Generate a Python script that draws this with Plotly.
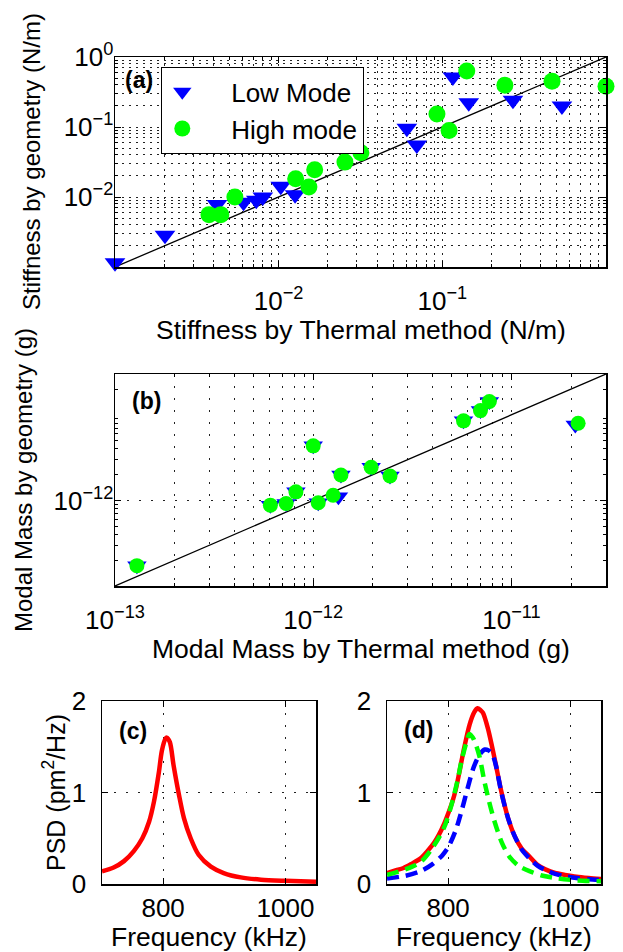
import plotly.graph_objects as go

# ---------------- data ----------------
# (a) stiffness (N/m)
low_k_thermal = [1.0e-3, 2.02e-3, 4.2e-3, 6.1e-3, 7.3e-3, 8.0e-3, 1.03e-2, 1.26e-2,
                 6.07e-2, 6.98e-2, 0.116, 0.145, 0.27, 0.538]
low_k_geom = [1.15e-3, 2.85e-3, 7.8e-3, 8.4e-3, 9.0e-3, 1.0e-2, 1.42e-2, 1.08e-2,
              9.6e-2, 5.55e-2, 0.52, 0.222, 0.242, 0.199]
high_k_thermal = [3.75e-3, 4.43e-3, 5.4e-3, 1.27e-2, 1.53e-2, 1.66e-2, 2.54e-2, 3.18e-2,
                  9.27e-2, 0.11, 0.141, 0.241, 0.468, 1.0]
high_k_geom = [5.6e-3, 5.6e-3, 1.0e-2, 1.82e-2, 1.39e-2, 2.45e-2, 3.15e-2, 4.3e-2,
               0.153, 8.9e-2, 0.632, 0.395, 0.45, 0.383]
k_ref = [1e-3, 1.0]

# (b) modal mass (g)
low_m_thermal = [1.29e-13, 6.08e-13, 7.3e-13, 8.18e-13, 1.0e-12, 1.06e-12, 1.34e-12, 1.38e-12,
                 1.96e-12, 2.44e-12, 5.73e-12, 6.98e-12, 7.74e-12, 2.1e-11]
low_m_geom = [1.73e-13, 8.81e-13, 9.2e-13, 1.26e-12, 4.34e-12, 9.4e-13, 1.1e-12, 1.98e-12,
              2.44e-12, 1.93e-12, 8.5e-12, 1.12e-11, 1.43e-11, 7.6e-12]
high_m_thermal = [1.29e-13, 6.08e-13, 7.3e-13, 8.18e-13, 1.0e-12, 1.06e-12, 1.26e-12, 1.38e-12,
                  1.96e-12, 2.44e-12, 5.73e-12, 6.98e-12, 7.74e-12, 2.17e-11]
high_m_geom = [1.73e-13, 8.81e-13, 9.2e-13, 1.26e-12, 4.34e-12, 9.4e-13, 1.15e-12, 1.98e-12,
               2.44e-12, 1.93e-12, 8.5e-12, 1.12e-11, 1.43e-11, 7.98e-12]
m_ref = [1e-13, 3e-11]

# (c) PSD single peak
freq_c = [700, 719, 736, 752, 766, 777, 785, 793, 798, 804, 806, 811, 817, 826, 834,
          845, 858, 878, 899, 927, 960, 1000, 1050]
psd_c = [0.138, 0.18, 0.25, 0.36, 0.50, 0.68, 0.90, 1.22, 1.46, 1.59, 1.60, 1.55, 1.30,
         0.97, 0.72, 0.50, 0.32, 0.19, 0.12, 0.072, 0.047, 0.035, 0.025]

# (d) PSD: total (red), high mode (green), low mode (blue)
freq_d_total = [700, 715, 727, 740, 755, 765, 777, 785, 793, 800, 807, 813, 818, 826, 835,
                843, 848, 853, 857, 865, 876, 887, 898, 909, 920, 933, 946, 959, 975, 991,
                1010, 1030, 1050]
psd_d_total = [0.12, 0.15, 0.175, 0.22, 0.28, 0.35, 0.45, 0.54, 0.65, 0.77, 0.90, 1.05, 1.21,
               1.48, 1.74, 1.88, 1.92, 1.90, 1.87, 1.70, 1.37, 1.01, 0.72, 0.52, 0.39, 0.30,
               0.21, 0.16, 0.12, 0.10, 0.08, 0.066, 0.055]
freq_d_green = [700, 730, 755, 775, 793, 804, 815, 822, 830, 835, 842, 851, 859, 867, 876,
                888, 900, 915, 933, 955, 980, 1010, 1050]
psd_d_green = [0.10, 0.16, 0.24, 0.40, 0.61, 0.83, 1.12, 1.35, 1.55, 1.64, 1.58, 1.40, 1.13,
               0.90, 0.68, 0.45, 0.30, 0.20, 0.14, 0.09, 0.06, 0.04, 0.03]
freq_d_blue = [700, 730, 755, 775, 790, 800, 812, 822, 832, 842, 852, 860, 866, 872, 878,
               887, 898, 909, 920, 933, 946, 960, 975, 991, 1010, 1030, 1050]
psd_d_blue = [0.06, 0.09, 0.14, 0.22, 0.31, 0.40, 0.58, 0.80, 1.05, 1.28, 1.42, 1.47, 1.46,
              1.42, 1.30, 1.00, 0.72, 0.52, 0.38, 0.28, 0.20, 0.15, 0.11, 0.085, 0.065,
              0.053, 0.045]

# tick labels
a_ticks = [1e-2, 1e-1, 1.0]
a_ticktext = ["10<sup>\u22122</sup>", "10<sup>\u22121</sup>", "10<sup>0</sup>"]
b_xticks = [1e-13, 1e-12, 1e-11]
b_xticktext = ["10<sup>\u221213</sup>", "10<sup>\u221212</sup>", "10<sup>\u221211</sup>"]
b_yticks = [1e-12]
b_yticktext = ["10<sup>\u221212</sup>"]
f_ticks = [800, 1000]
p_ticks = [0, 1, 2]

# ---------------- layout helpers ----------------
W, H = 623, 952
FONT = "Liberation Sans, Arial, Helvetica, sans-serif"
TICKFONT = dict(family=FONT, size=26, color="black")
PAD = "\u00a0" * 4


def px_x(a, b):
    return [a / W, b / W]


def px_y(top, bottom):
    return [1 - bottom / H, 1 - top / H]


def minor_vals(e0, e1, extra=()):
    vals = [k * 10.0 ** e for e in range(e0, e1) for k in range(2, 10)]
    return vals + list(extra)


def base_axis(**kw):
    d = dict(showline=True, linecolor="black", linewidth=1.5, mirror="allticks",
             ticks="inside", ticklen=6, tickwidth=1, tickcolor="black",
             tickfont=TICKFONT, zeroline=False, gridcolor="#222", gridwidth=1,
             automargin=False)
    d.update(kw)
    return d


fig = go.Figure()

# (a)
fig.add_trace(go.Scatter(x=k_ref, y=k_ref, mode="lines", line=dict(color="black", width=1.3),
                         showlegend=False, xaxis="x", yaxis="y", hoverinfo="skip"))
fig.add_trace(go.Scatter(x=low_k_thermal, y=low_k_geom, mode="markers", name=PAD + "Low Mode",
                         marker=dict(symbol="triangle-down", size=18, color="#0000ff"),
                         cliponaxis=False, xaxis="x", yaxis="y"))
fig.add_trace(go.Scatter(x=high_k_thermal, y=high_k_geom, mode="markers", name=PAD + "High mode",
                         marker=dict(symbol="circle", size=17, color="#00ff00"),
                         cliponaxis=False, xaxis="x", yaxis="y"))

# (b)
fig.add_trace(go.Scatter(x=m_ref, y=m_ref, mode="lines", line=dict(color="black", width=1.3),
                         showlegend=False, xaxis="x2", yaxis="y2", hoverinfo="skip"))
fig.add_trace(go.Scatter(x=low_m_thermal, y=low_m_geom, mode="markers", showlegend=False,
                         marker=dict(symbol="triangle-down", size=17, color="#0000ff"),
                         cliponaxis=False, xaxis="x2", yaxis="y2"))
fig.add_trace(go.Scatter(x=high_m_thermal, y=high_m_geom, mode="markers", showlegend=False,
                         marker=dict(symbol="circle", size=15, color="#00ff00"),
                         cliponaxis=False, xaxis="x2", yaxis="y2"))

# (c)
fig.add_trace(go.Scatter(x=freq_c, y=psd_c, mode="lines", showlegend=False,
                         line=dict(color="#ff0000", width=4.5, shape="spline", smoothing=0.8),
                         xaxis="x3", yaxis="y3"))

# (d)
fig.add_trace(go.Scatter(x=freq_d_total, y=psd_d_total, mode="lines", showlegend=False,
                         line=dict(color="#ff0000", width=4.5, shape="spline", smoothing=0.8),
                         xaxis="x4", yaxis="y4"))
fig.add_trace(go.Scatter(x=freq_d_blue, y=psd_d_blue, mode="lines", showlegend=False,
                         line=dict(color="#0000ff", width=4.5, shape="spline", smoothing=0.8,
                                   dash="12px,7px"),
                         xaxis="x4", yaxis="y4"))
fig.add_trace(go.Scatter(x=freq_d_green, y=psd_d_green, mode="lines", showlegend=False,
                         line=dict(color="#00ff00", width=4.5, shape="spline", smoothing=0.8,
                                   dash="12px,7px"),
                         xaxis="x4", yaxis="y4"))

dot_a = "1.5px,5.5px"
dot_b = "1.5px,10.5px"

layout = dict(
    width=W, height=H,
    margin=dict(l=0, r=0, t=0, b=0, autoexpand=False),
    paper_bgcolor="white", plot_bgcolor="white",
    font=dict(family=FONT, color="black"),
    showlegend=True,
    hovermode=False,
    legend=dict(x=161 / W, y=1 - 67 / H, xanchor="left", yanchor="top",
                bgcolor="white", bordercolor="black", borderwidth=1.3,
                font=dict(family=FONT, size=26, color="black"),
                itemwidth=30, tracegroupgap=0),
    xaxis=base_axis(type="log", range=[-3, 0], domain=px_x(115, 606), anchor="y",
                    tickmode="array", tickvals=a_ticks, ticktext=a_ticktext,
                    showgrid=True, griddash=dot_a, ticklabelstandoff=10,
                    minor=dict(tickmode="array", tickvals=minor_vals(-3, 0), ticks="inside",
                               ticklen=3, showgrid=True, griddash=dot_a, gridcolor="#222",
                               gridwidth=1)),
    yaxis=base_axis(type="log", range=[-3, 0], domain=px_y(57, 267), anchor="x",
                    tickmode="array", tickvals=a_ticks, ticktext=a_ticktext,
                    showgrid=True, griddash=dot_a, ticklabelstandoff=-5,
                    minor=dict(tickmode="array", tickvals=minor_vals(-3, 0), ticks="inside",
                               ticklen=3, showgrid=True, griddash=dot_a, gridcolor="#222",
                               gridwidth=1)),
    xaxis2=base_axis(type="log", range=[-13, -10.5229], domain=px_x(115, 606), anchor="y2",
                     tickmode="array", tickvals=b_xticks, ticktext=b_xticktext,
                     showgrid=True, griddash=dot_b, ticklabelstandoff=10,
                     minor=dict(tickmode="array", tickvals=minor_vals(-13, -11, (2e-11, 3e-11)),
                                ticks="inside", ticklen=3, showgrid=True, griddash=dot_b,
                                gridcolor="#222", gridwidth=1)),
    yaxis2=base_axis(type="log", range=[-13, -10.5229], domain=px_y(374, 586), anchor="x2",
                     tickmode="array", tickvals=b_yticks, ticktext=b_yticktext,
                     showgrid=True, griddash=dot_b, ticklabelstandoff=-5,
                     minor=dict(tickmode="array", tickvals=minor_vals(-13, -11, (2e-11, 3e-11)),
                                ticks="inside", ticklen=3, showgrid=False)),
    xaxis3=base_axis(range=[700, 1050], domain=px_x(102, 316), anchor="y3",
                     tickmode="array", tickvals=f_ticks, showgrid=True, griddash=dot_b),
    yaxis3=base_axis(range=[0, 2], domain=px_y(701, 884), anchor="x3",
                     tickmode="array", tickvals=p_ticks, showgrid=True, griddash=dot_b,
                     ticklabelstandoff=9),
    xaxis4=base_axis(range=[700, 1050], domain=px_x(387, 601), anchor="y4",
                     tickmode="array", tickvals=f_ticks, showgrid=True, griddash=dot_b),
    yaxis4=base_axis(range=[0, 2], domain=px_y(701, 884), anchor="x4",
                     tickmode="array", tickvals=p_ticks, showgrid=True, griddash=dot_b,
                     ticklabelstandoff=9),
)
fig.update_layout(**layout)


def ann(text, x, y, size=26, bold=False, angle=0, xanchor="center", yanchor="middle"):
    t = f"<b>{text}</b>" if bold else text
    fig.add_annotation(text=t, x=x / W, y=1 - y / H, xref="paper", yref="paper",
                       showarrow=False, textangle=angle, xanchor=xanchor, yanchor=yanchor,
                       font=dict(family=FONT, size=size, color="black"))


# axis titles
ann("Stiffness by Thermal method (N/m)", 361, 330, size=26.5)
ann("Stiffness by geometry (N/m)", 31, 162, size=24, angle=-90)
ann("Modal Mass by Thermal method (g)", 361, 649, size=26.5)
ann("Modal Mass by geometry (g)", 23, 480, size=24, angle=-90)
ann("PSD (pm<sup>2</sup>/Hz)", 54, 792, size=25, angle=-90)
ann("Frequency (kHz)", 209, 937, size=26.5)
ann("Frequency (kHz)", 494, 937, size=26.5)

# panel labels
ann("(a)", 123, 80, size=23, bold=True, xanchor="left")
ann("(b)", 130, 401, size=23, bold=True, xanchor="left")
ann("(c)", 117, 731, size=23, bold=True, xanchor="left")
ann("(d)", 402, 730, size=23, bold=True, xanchor="left")

fig.write_html("out.html", config={"displayModeBar": False, "staticPlot": True},
               post_script="document.body.style.margin='0px';")
